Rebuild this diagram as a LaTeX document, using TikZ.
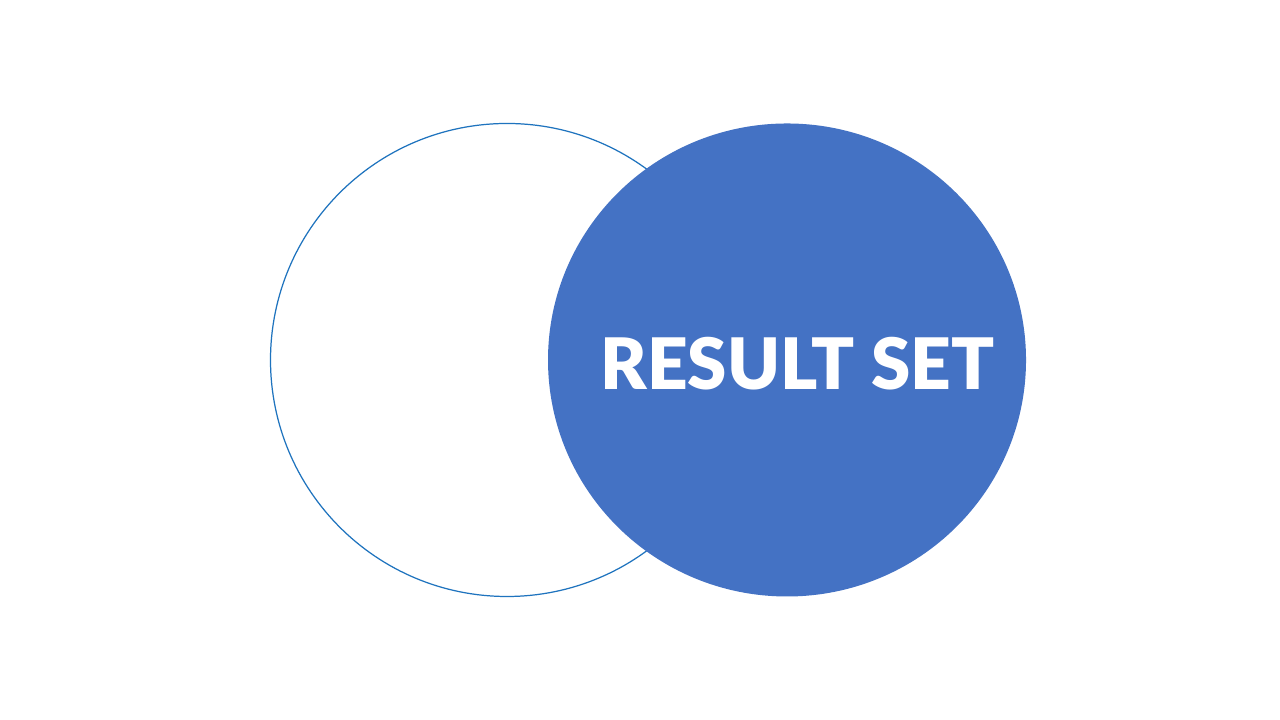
\documentclass[tikz,border=0pt]{standalone}
\usepackage{fontspec}
\setmainfont{Lato}[BoldFont={Lato Black}]
\usepackage{xcolor}
\usetikzlibrary{positioning,shapes.geometric}
\definecolor{SetBlue}{RGB}{68,114,196}
\definecolor{SetLine}{RGB}{30,115,190}

\begin{document}
\begin{tikzpicture}[
        setring/.style={circle,draw=SetLine,line width=0.35pt,fill=white,
                        minimum size=4.73cm,inner sep=0pt},
        setdisk/.style={ellipse,draw=none,fill=SetBlue,minimum width=4.78cm,
                        minimum height=4.73cm,inner sep=0pt}
      ]
        \useasboundingbox[fill=white] (0,0) rectangle (12.8,7.2);
        \node[setring] (left) at (5.07,3.6) {};
        \node[setdisk] (right) at (7.87,3.6) {};
        \node[text=white,font=\fontsize{20.2}{25}\selectfont\bfseries,
              anchor=base] (label) at (7.975,3.3) {RESULT SET};
      \end{tikzpicture}
\end{document}
